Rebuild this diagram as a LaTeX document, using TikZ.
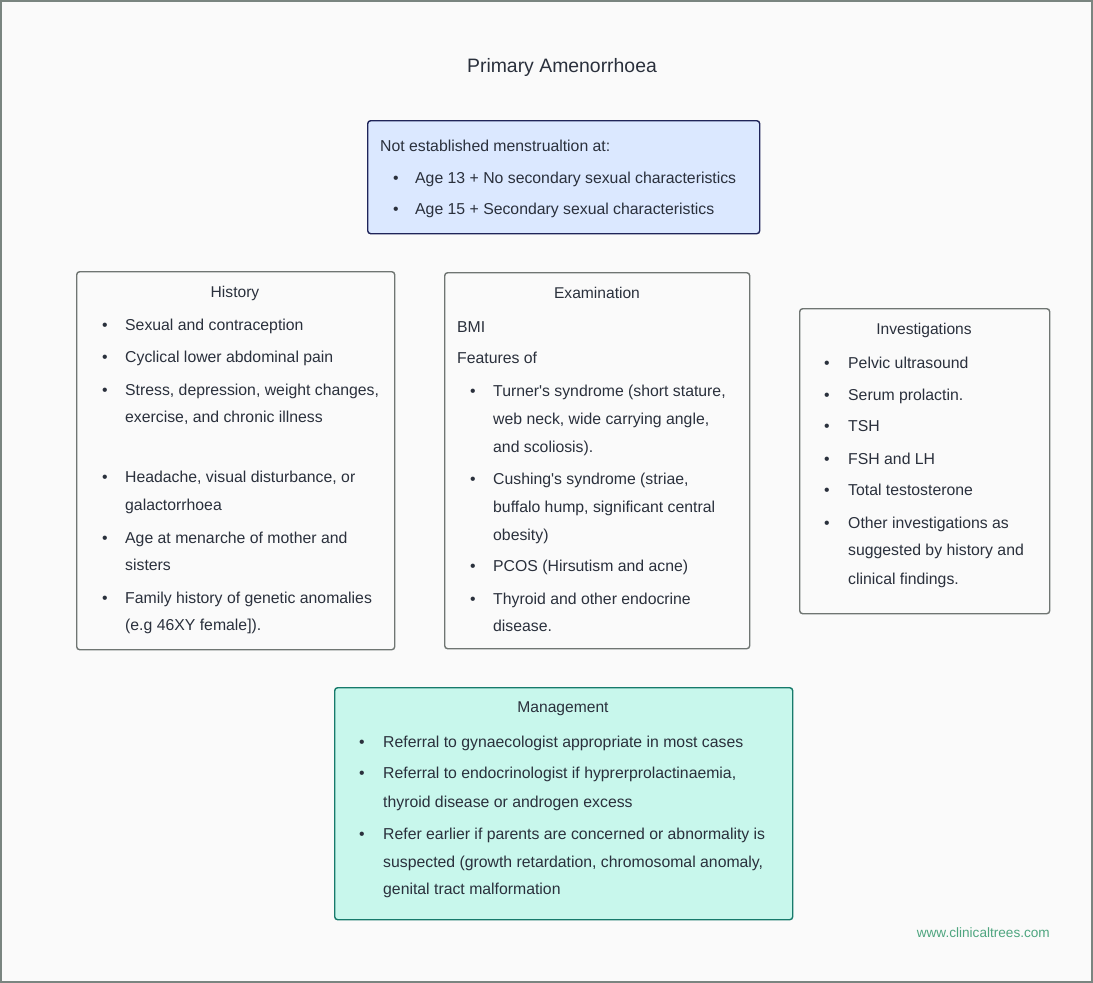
\documentclass[tikz,border=0pt]{standalone}
\usepackage{fontspec}
\setmainfont{Liberation Sans}
\definecolor{bg}{HTML}{FAFAFA}
\definecolor{frame}{HTML}{7A8580}
\definecolor{txt}{HTML}{2A303C}
\definecolor{greyb}{HTML}{6F7572}
\definecolor{bluef}{HTML}{DBE8FF}
\definecolor{blueb}{HTML}{1F2459}
\definecolor{bluet}{HTML}{1E2246}
\definecolor{mintf}{HTML}{C8F7EC}
\definecolor{mintb}{HTML}{177A6B}
\definecolor{mintt}{HTML}{1A2A2A}
\definecolor{foot}{HTML}{4EA57F}
\tikzset{
  boxbase/.style={rounded corners=3pt, line width=1.4pt},
  greybox/.style={boxbase, draw=greyb, fill=bg},
  bluebox/.style={boxbase, draw=blueb, fill=bluef},
  mintbox/.style={boxbase, draw=mintb, fill=mintf},
  line/.style={anchor=base west, inner sep=0pt, font=\fontsize{15.8}{18}\selectfont, text=txt},
  head/.style={anchor=base, inner sep=0pt, font=\fontsize{15.6}{18}\selectfont, text=txt},
  dot/.style={anchor=base, inner sep=0pt, font=\fontsize{15.8}{18}\selectfont, text=txt},
}
\begin{document}
\begin{tikzpicture}[x=1pt,y=-1pt]
\useasboundingbox (0,0) rectangle (1093,983);
\fill[bg] (0,0) rectangle (1093,983);
\draw[frame, line width=1.6pt] (0.8,0.8) rectangle (1092.2,982.2);

\node[anchor=base, inner sep=0pt, font=\fontsize{19.4}{22}\selectfont, text=txt] (title) at (562,72.5) {Primary Amenorrhoea};

% Definition box
\node[bluebox, anchor=north west, minimum width=392pt, minimum height=113pt] (def) at (367,120) {};
\begin{scope}[every node/.append style={text=bluet}]
\node[line] (d0) at (380,151.5) {Not established menstrualtion at:};
\node[dot] (db1) at (396,183.5) {•};
\node[line] (d1) at (415,183.5) {Age 13 + No secondary sexual characteristics};
\node[dot] (db2) at (396,214.5) {•};
\node[line] (d2) at (415,214.5) {Age 15 + Secondary sexual characteristics};
\end{scope}

% History
\node[greybox, anchor=north west, minimum width=318pt, minimum height=378pt] (hist) at (76,271) {};
\node[head] (histt) at (235,297.5) {History};
\node[dot] (hb1) at (105,330.5) {•};
\node[line] (h1) at (125,330.5) {Sexual and contraception};
\node[dot] (hb2) at (105,362.5) {•};
\node[line] (h2) at (125,362.5) {Cyclical lower abdominal pain};
\node[dot] (hb3) at (105,395.5) {•};
\node[line] (h3a) at (125,395.5) {Stress, depression, weight changes,};
\node[line] (h3b) at (125,422.5) {exercise, and chronic illness};
\node[dot] (hb4) at (105,482.5) {•};
\node[line] (h4a) at (125,482.5) {Headache, visual disturbance, or};
\node[line] (h4b) at (125,510.5) {galactorrhoea};
\node[dot] (hb5) at (105,543.5) {•};
\node[line] (h5a) at (125,543.5) {Age at menarche of mother and};
\node[line] (h5b) at (125,570.5) {sisters};
\node[dot] (hb6) at (105,603.5) {•};
\node[line] (h6a) at (125,603.5) {Family history of genetic anomalies};
\node[line] (h6b) at (125,630.5) {(e.g 46XY female]).};

% Examination
\node[greybox, anchor=north west, minimum width=305pt, minimum height=376pt] (exam) at (444,272) {};
\node[head] (examt) at (597,298.5) {Examination};
\node[line] (e0) at (457,332.5) {BMI};
\node[line] (e00) at (457,363.5) {Features of};
\node[dot] (eb1) at (473,396.5) {•};
\node[line] (e1a) at (493,396.5) {Turner\textquotesingle s syndrome (short stature,};
\node[line] (e1b) at (493,424.5) {web neck, wide carrying angle,};
\node[line] (e1c) at (493,452.5) {and scoliosis).};
\node[dot] (eb2) at (473,484.5) {•};
\node[line] (e2a) at (493,484.5) {Cushing\textquotesingle s syndrome (striae,};
\node[line] (e2b) at (493,512.5) {buffalo hump, significant central};
\node[line] (e2c) at (493,540.5) {obesity)};
\node[dot] (eb3) at (473,571.5) {•};
\node[line] (e3) at (493,571.5) {PCOS (Hirsutism and acne)};
\node[dot] (eb4) at (473,604.5) {•};
\node[line] (e4a) at (493,604.5) {Thyroid and other endocrine};
\node[line] (e4b) at (493,631.5) {disease.};

% Investigations
\node[greybox, anchor=north west, minimum width=250pt, minimum height=305pt] (inv) at (799,308) {};
\node[head] (invt) at (924,334.5) {Investigations};
\node[dot] (ib1) at (827,368.5) {•};
\node[line] (i1) at (848,368.5) {Pelvic ultrasound};
\node[dot] (ib2) at (827,400.5) {•};
\node[line] (i2) at (848,400.5) {Serum prolactin.};
\node[dot] (ib3) at (827,431.5) {•};
\node[line] (i3) at (848,431.5) {TSH};
\node[dot] (ib4) at (827,464.5) {•};
\node[line] (i4) at (848,464.5) {FSH and LH};
\node[dot] (ib5) at (827,495.5) {•};
\node[line] (i5) at (848,495.5) {Total testosterone};
\node[dot] (ib6) at (827,528.5) {•};
\node[line] (i6a) at (848,528.5) {Other investigations as};
\node[line] (i6b) at (848,555.5) {suggested by history and};
\node[line] (i6c) at (848,584.5) {clinical findings.};

% Management
\node[mintbox, anchor=north west, minimum width=458pt, minimum height=232pt] (mgmt) at (334,687) {};
\begin{scope}[every node/.append style={text=mintt}]
\node[head] (mgmtt) at (563,712.5) {Management};
\node[dot] (mb1) at (362,747.5) {•};
\node[line] (m1) at (383,747.5) {Referral to gynaecologist appropriate in most cases};
\node[dot] (mb2) at (362,778.5) {•};
\node[line] (m2a) at (383,778.5) {Referral to endocrinologist if hyprerprolactinaemia,};
\node[line] (m2b) at (383,807.5) {thyroid disease or androgen excess};
\node[dot] (mb3) at (362,839.5) {•};
\node[line] (m3a) at (383,839.5) {Refer earlier if parents are concerned or abnormality is};
\node[line] (m3b) at (383,867.5) {suspected (growth retardation, chromosomal anomaly,};
\node[line] (m3c) at (383,894.5) {genital tract malformation};
\end{scope}

\node[anchor=base east, inner sep=0pt, font=\fontsize{13.6}{16}\selectfont, text=foot] (footer) at (1050,937) {www.clinicaltrees.com};
\end{tikzpicture}
\end{document}
